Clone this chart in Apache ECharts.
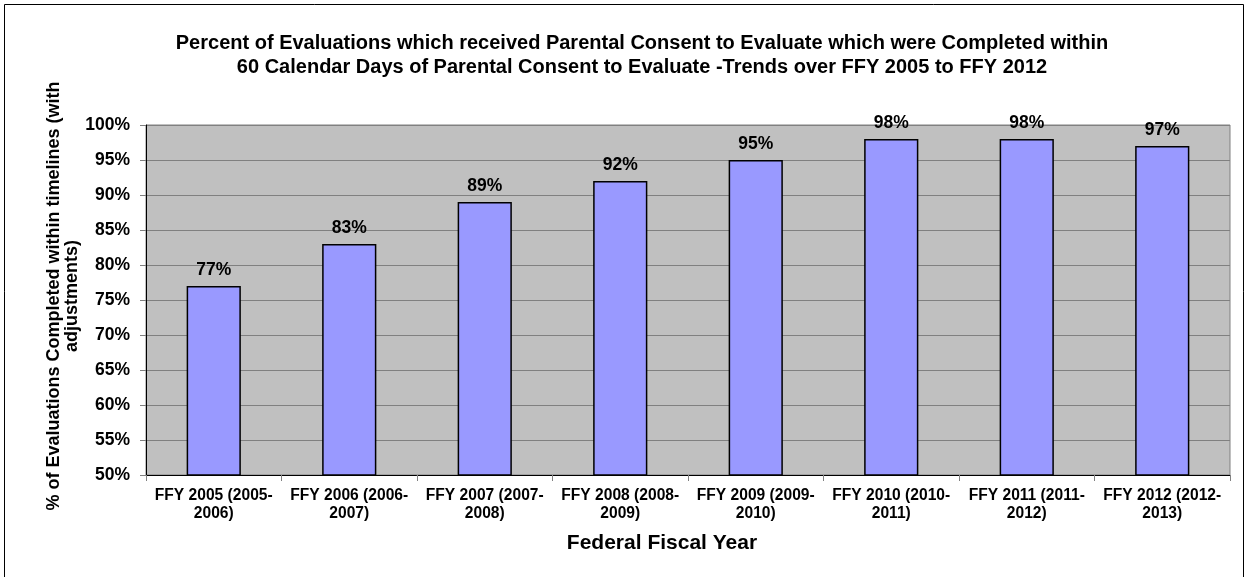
<!DOCTYPE html>
<html><head><meta charset="utf-8">
<script src="https://cdn.jsdelivr.net/npm/echarts@6/dist/echarts.min.js"></script>
<style>html,body{margin:0;padding:0;background:#fff}#c{width:1249px;height:577px}</style>
</head><body><div id="c"></div>
<script>
const categories = ["FFY 2005 (2005-\n2006)","FFY 2006 (2006-\n2007)","FFY 2007 (2007-\n2008)","FFY 2008 (2008-\n2009)","FFY 2009 (2009-\n2010)","FFY 2010 (2010-\n2011)","FFY 2011 (2011-\n2012)","FFY 2012 (2012-\n2013)"];
const values = [77, 83, 89, 92, 95, 98, 98, 97];
const titleLines = ["Percent of Evaluations which received Parental Consent to Evaluate which were Completed within", "60 Calendar Days of Parental Consent to Evaluate -Trends over FFY 2005 to FFY 2012"];
const xName = "Federal Fiscal Year";
const yNameLines = ["% of Evaluations Completed within timelines (with", "adjustments)"];
const yMin = 50, yMax = 100, yStep = 5;

const FONT = '"Liberation Sans", Arial, sans-serif';
const chart = echarts.init(document.getElementById('c'), null, {renderer:'canvas'});
chart.setOption({
  animation: false,
  backgroundColor: '#fff',
  textStyle: {fontFamily: FONT},
  graphic: [
    {type:'rect', shape:{x:4.5, y:4.5, width:1239, height:580}, style:{fill:null, stroke:'#000', lineWidth:1}, silent:true, z:-10},
    {type:'text', x:642, y:31, style:{text: titleLines.join('\n'), align:'center', verticalAlign:'top', font:'bold 20px ' + FONT, fill:'#000', lineHeight:24}},
    {type:'text', x:662, y:543, style:{text: xName, align:'center', verticalAlign:'middle', font:'bold 21px ' + FONT, fill:'#000'}},
    {type:'text', x:63, y:296, rotation: Math.PI/2, style:{text: yNameLines.join('\n'), align:'center', verticalAlign:'middle', font:'bold 18px ' + FONT, fill:'#000', lineHeight:18}}
  ],
  grid: {left:146, right:19, top:125, bottom:102, show:true, backgroundColor:'#c0c0c0', borderColor:'#808080', borderWidth:1},
  xAxis: {
    type:'category', data: categories,
    axisLine:{lineStyle:{color:'#000', width:1}},
    axisTick:{show:true, alignWithLabel:false, length:6, lineStyle:{color:'#808080'}},
    axisLabel:{interval:0, fontSize:15.6, fontWeight:'bold', color:'#000', lineHeight:18, margin:12, fontFamily: FONT}
  },
  yAxis: {
    type:'value', min:yMin, max:yMax, interval:yStep,
    axisLine:{show:true, lineStyle:{color:'#000', width:1}},
    axisTick:{show:true, length:6, lineStyle:{color:'#808080'}},
    axisLabel:{formatter:'{value}%', fontSize:17.5, fontWeight:'bold', color:'#000', margin:16, fontFamily: FONT},
    splitLine:{show:true, lineStyle:{color:'#808080', width:1}}
  },
  series: [{
    type:'bar', data: values, barWidth:'40%',
    itemStyle:{color:'#9999ff', borderColor:'#000', borderWidth:1.5},
    label:{show:true, position:'top', distance:7, formatter:'{c}%', fontSize:17.5, fontWeight:'bold', color:'#000', fontFamily: FONT}
  }]
});
</script></body></html>
